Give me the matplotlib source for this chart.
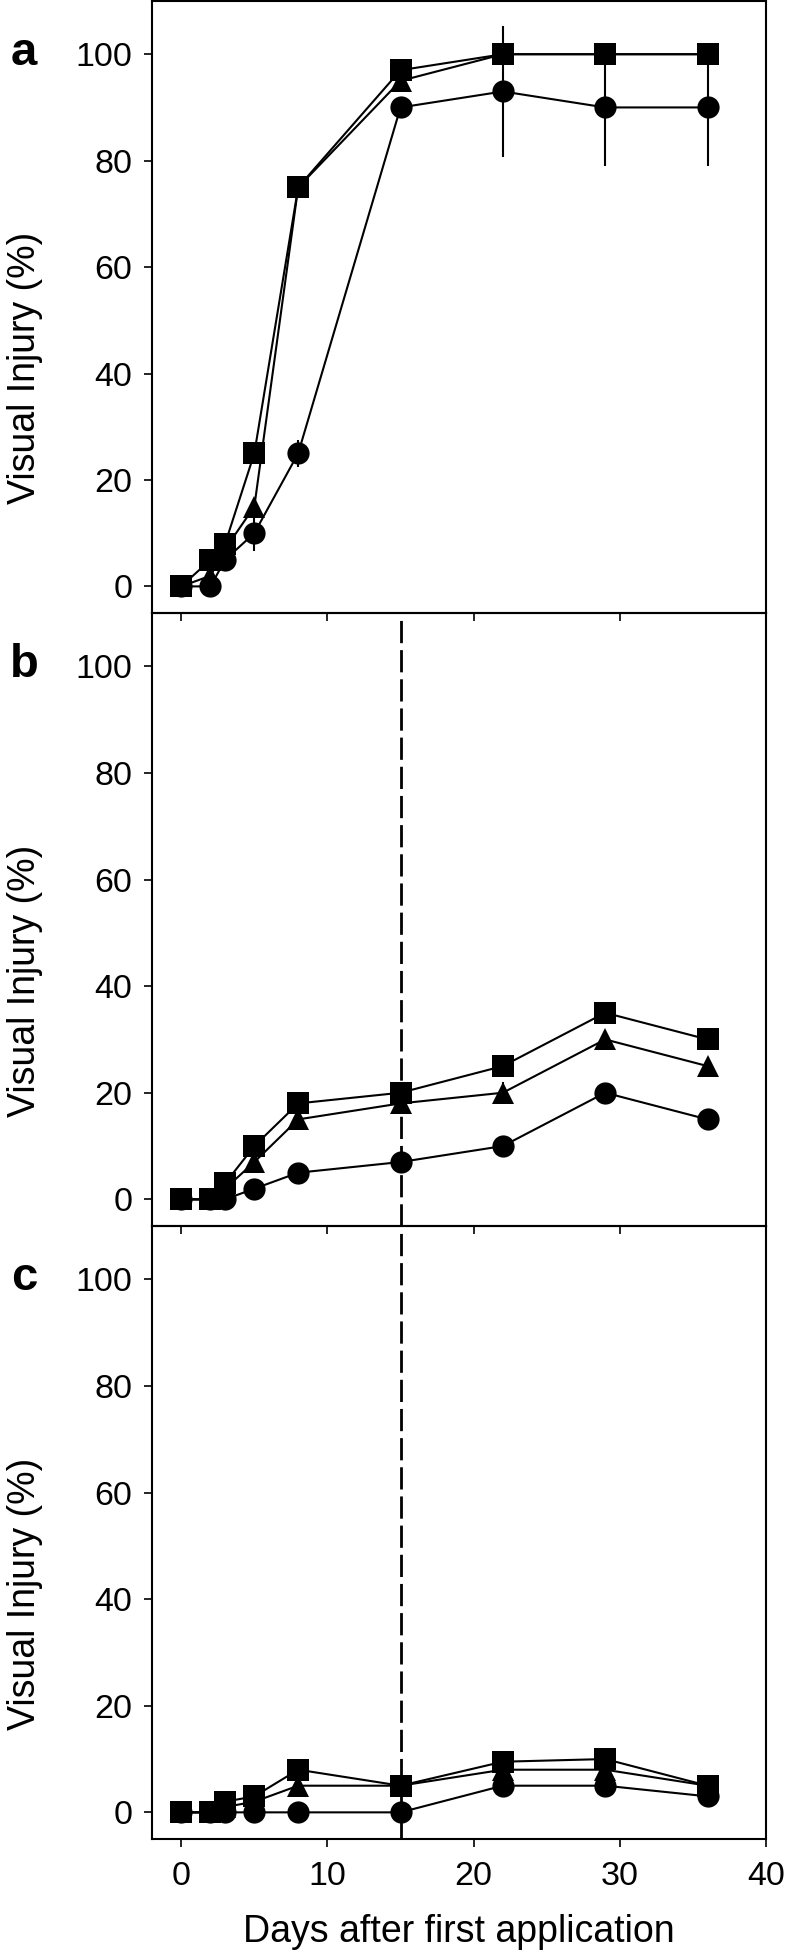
import matplotlib
matplotlib.use("Agg")
import matplotlib.pyplot as plt

plt.rcParams['font.family'] = ['Liberation Sans', 'DejaVu Sans']

dias = [0, 2, 3, 5, 8, 15, 22, 29, 36]

# panel a
a_cuadrado = [0, 5, 8, 25, 75, 97, 100, 100, 100]
a_triangulo = [0, 2, 7, 15, 75, 95, 100, 100, 100]
a_circulo = [0, 0, 5, 10, 25, 90, 93, 90, 90]
a_err_triangulo = [0, 0, 0, 1.5, 0, 0, 0, 0, 0]
a_err_circulo = [0, 0, 0, 3.3, 2.5, 0, 12.3, 11, 11]

# panel b
b_cuadrado = [0, 0, 3, 10, 18, 20, 25, 35, 30]
b_triangulo = [0, 0, 2, 7, 15, 18, 20, 30, 25]
b_circulo = [0, 0, 0, 2, 5, 7, 10, 20, 15]
b_err_triangulo = [0, 0, 0, 0, 0, 0, 2, 0, 0]

# panel c
c_cuadrado = [0, 0, 2, 3, 8, 5, 9.5, 10, 5]
c_triangulo = [0, 0, 1, 2, 5, 5, 8, 8, 5]
c_circulo = [0, 0, 0, 0, 0, 0, 5, 5, 3]

paneles = [
    ("a", a_cuadrado, a_triangulo, a_circulo, a_err_triangulo, a_err_circulo),
    ("b", b_cuadrado, b_triangulo, b_circulo, b_err_triangulo, None),
    ("c", c_cuadrado, c_triangulo, c_circulo, None, None),
]

fig = plt.figure(figsize=(7.9, 19.59), dpi=100)
W, H = 790, 1959
izq, der = 152, 766
bordes = [(1, 613), (613, 1226), (1226, 1839)]

lw = 1.5
ms = 16
for k, (letra, cuad, tri, circ, err_t, err_c) in enumerate(paneles):
    arriba, abajo = bordes[k]
    ax = fig.add_axes([izq / W, 1 - abajo / H, (der - izq) / W, (abajo - arriba) / H])
    ax.patch.set_visible(False)  # deja ver los ticks del panel de arriba

    for serie, marcador, err in [(circ, "o", err_c), (tri, "^", err_t), (cuad, "s", None)]:
        ax.errorbar(dias, serie, yerr=err, color="black", marker=marcador,
                    markersize=ms, linewidth=lw, elinewidth=lw, capsize=6,
                    capthick=lw, markeredgewidth=0)

    if k > 0:
        ax.axvline(15, color="black", linewidth=2.0, linestyle=(0, (8, 2.5)))

    ax.set_xlim(-2, 40)
    ax.set_ylim(-5, 110)
    ax.set_yticks([0, 20, 40, 60, 80, 100])
    ax.set_xticks([0, 10, 20, 30, 40])
    ax.tick_params(direction="out", length=6, width=1.2, labelsize=24.5, pad=8)
    ax.tick_params(axis="x", pad=10)
    for s in ax.spines.values():
        s.set_linewidth(1.5)
    if k < 2:
        ax.tick_params(axis="x", labelbottom=False)
    else:
        ax.set_xlabel("Days after first application", fontsize=27, labelpad=16)

    ax.set_ylabel("Visual Injury (%)", fontsize=27)
    ax.yaxis.set_label_coords(-0.178, 0.40)
    ax.text(24 / W, 1 - (arriba + 52) / H, letra, transform=fig.transFigure,
            fontsize=34, fontweight="bold", ha="center", va="center")

fig.savefig("out.png", dpi=100)
